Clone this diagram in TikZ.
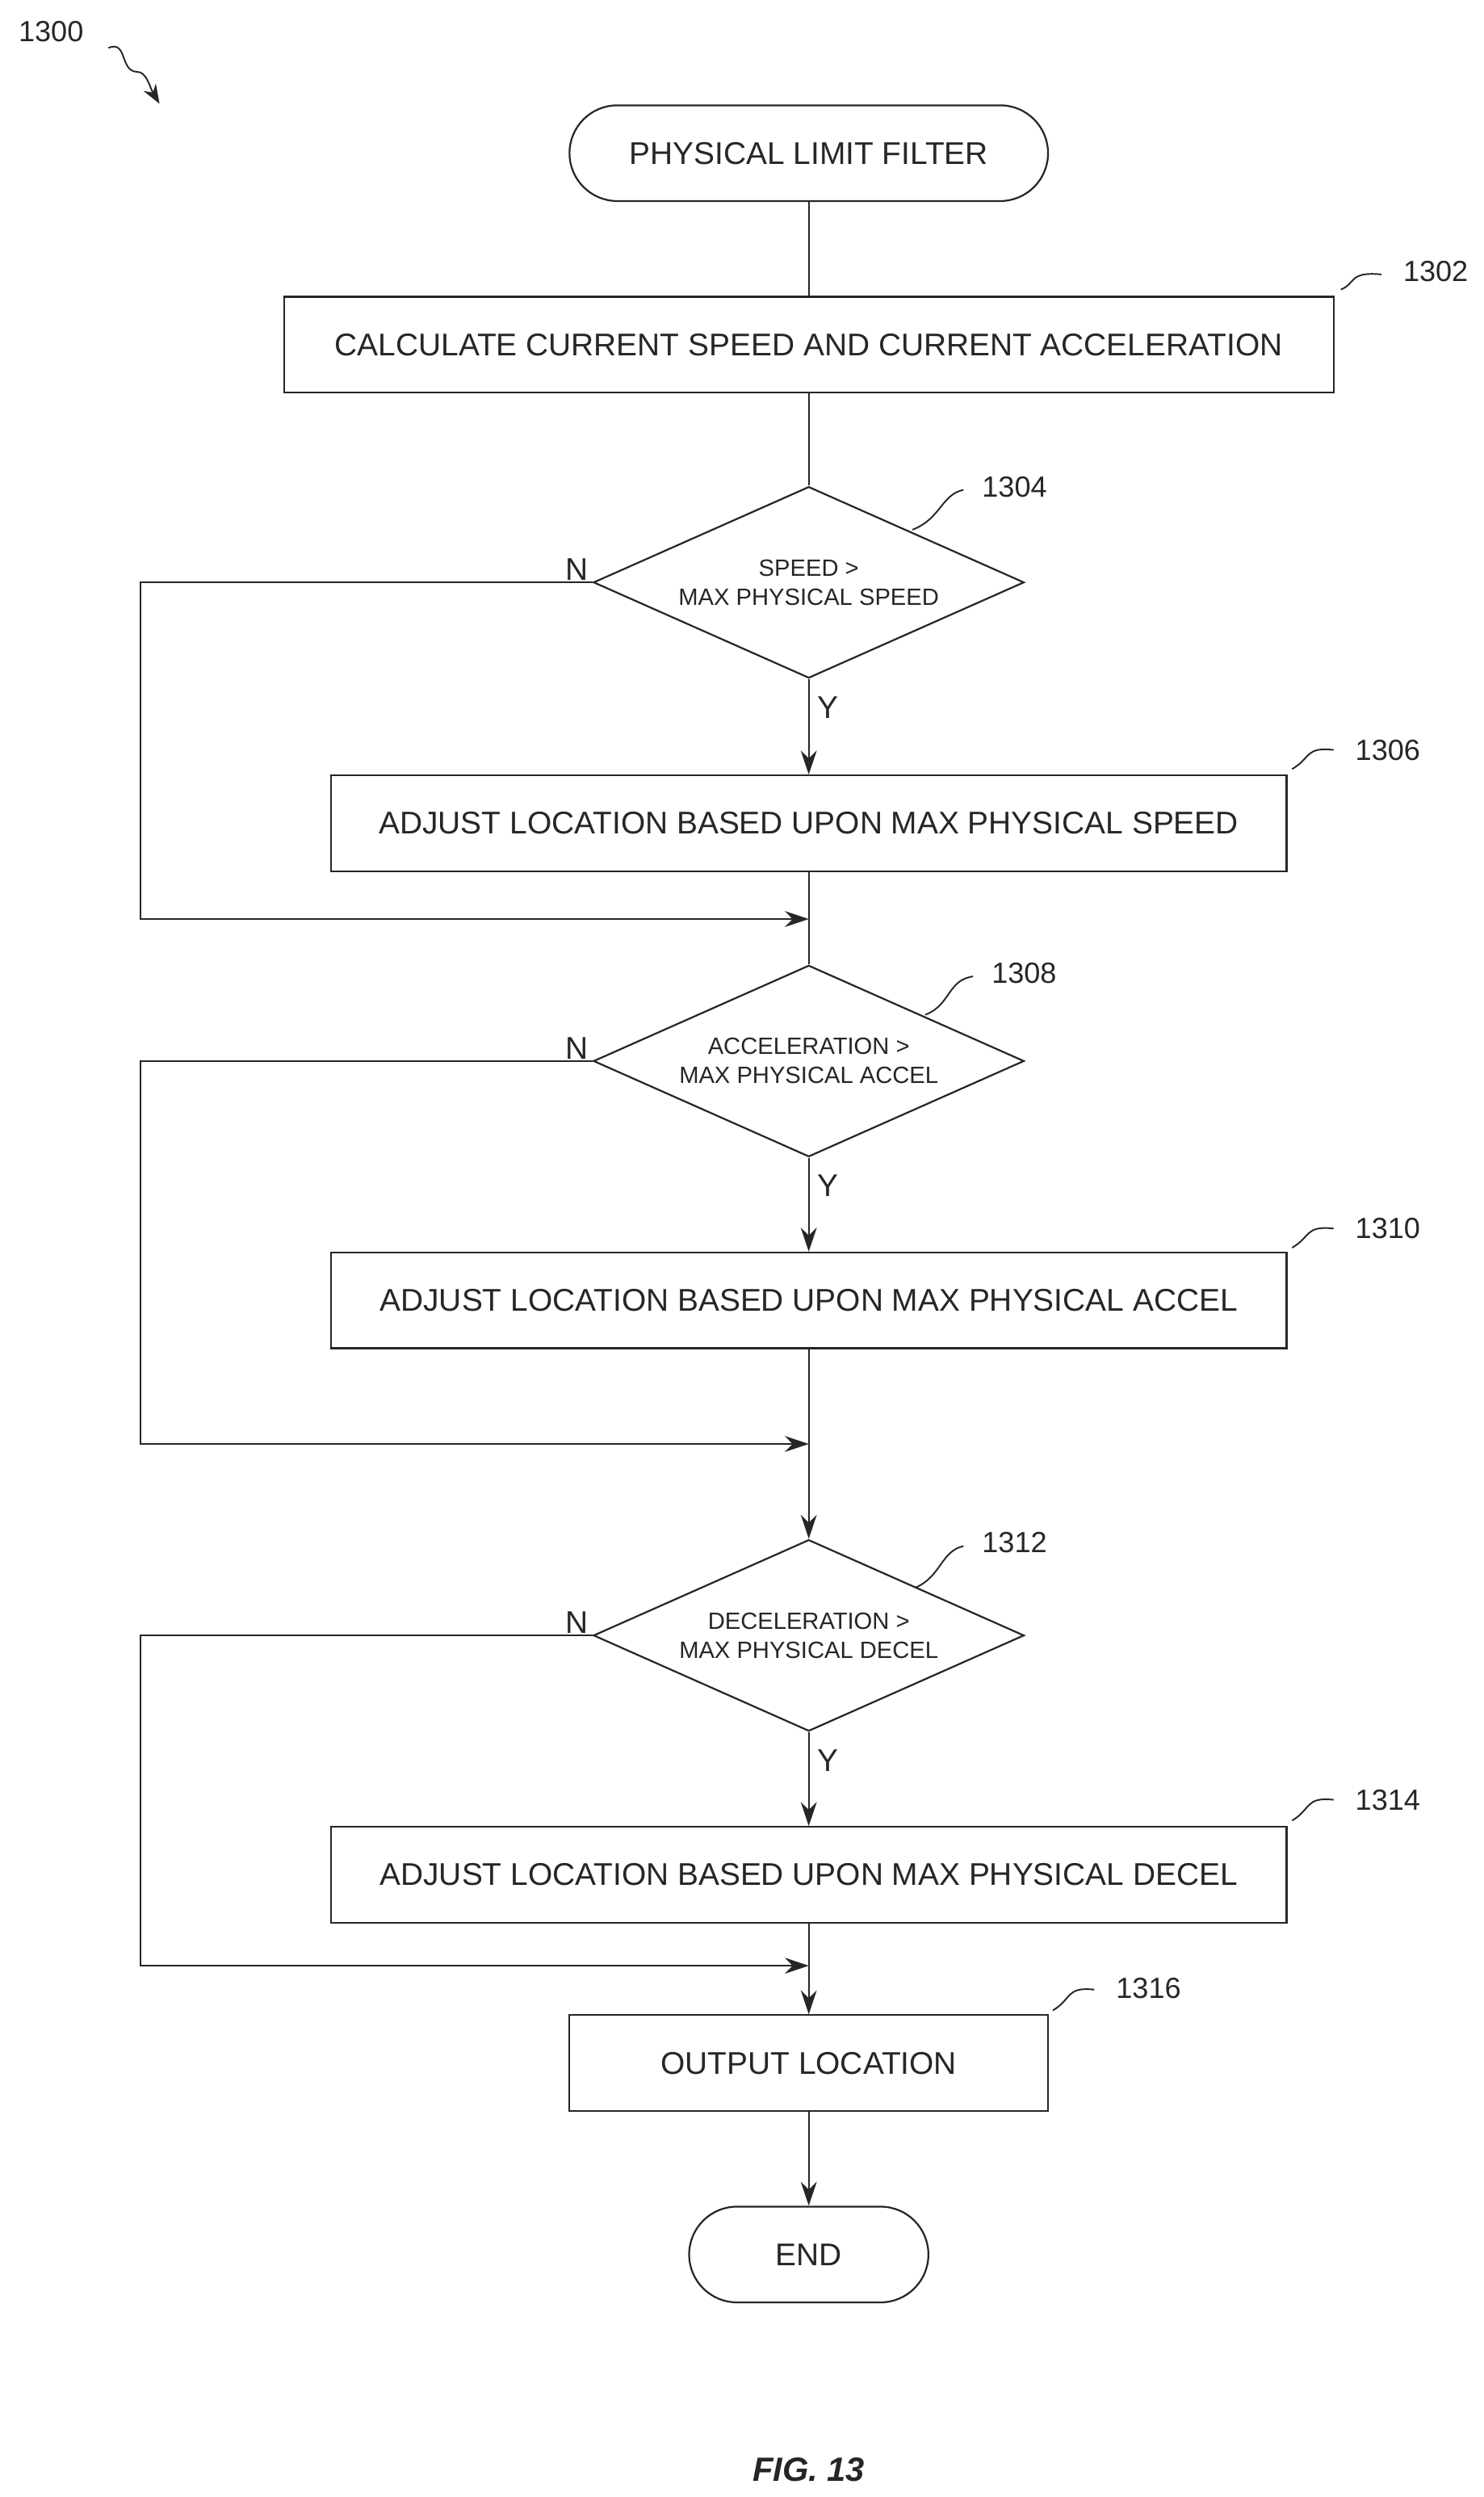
\documentclass[tikz,border=0pt]{standalone}
\usepackage{fontspec}
\setmainfont{Liberation Sans}
\usetikzlibrary{shapes.geometric,arrows.meta,positioning}
\tikzset{
  box/.style={draw, line width=1.6pt, minimum width=#1, minimum height=3cm, inner sep=0pt},
  term/.style={draw, line width=1.6pt, rounded corners=1.5cm, minimum width=#1, minimum height=3cm},
  dec/.style={draw, diamond, aspect=2.25, line width=1.6pt, minimum width=13.5cm, minimum height=6cm, inner sep=0pt, align=center, font=\fontsize{21}{26}\selectfont},
  flow/.style={line width=1.4pt, -{Stealth[length=0.75cm,width=0.5cm]}},
  lead/.style={line width=1.4pt},
  tag/.style={font=\fontsize{26}{30}\selectfont}
}
\begin{document}
\begin{tikzpicture}[x=0.05cm, y=-0.05cm, color=black!85, font=\fontsize{28}{33}\selectfont]
  \useasboundingbox (0,0) rectangle (930,1565);
  % 1300
  \node[tag] (t1300) at (32,20) {1300};
  \draw[lead, -{Stealth[length=0.6cm,width=0.45cm]}] (68,30) .. controls (80,25) and (75,45) .. (86,45) .. controls (92,45) and (94,55) .. (100,65);
  % blocks
  \node[term=15cm] (start) at (507,96) {PHYSICAL LIMIT FILTER};
  \node[box=32.9cm] (calc) at (507,216) {CALCULATE CURRENT SPEED AND CURRENT ACCELERATION};
  \node[dec] (speed) at (507,365) {SPEED >\\MAX PHYSICAL SPEED};
  \node[box=29.95cm] (adjs) at (507,516) {ADJUST LOCATION BASED UPON MAX PHYSICAL SPEED};
  \node[dec] (accel) at (507,665) {ACCELERATION >\\MAX PHYSICAL ACCEL};
  \node[box=29.95cm] (adja) at (507,815) {ADJUST LOCATION BASED UPON MAX PHYSICAL ACCEL};
  \node[dec] (decel) at (507,1025) {DECELERATION >\\MAX PHYSICAL DECEL};
  \node[box=29.95cm] (adjd) at (507,1175) {ADJUST LOCATION BASED UPON MAX PHYSICAL DECEL};
  \node[box=15cm] (out) at (507,1293) {OUTPUT LOCATION};
  \node[term=7.5cm] (end) at (507,1413) {END};
  % merge points
  \coordinate (m1) at (507,576);
  \coordinate (m2) at (507,905);
  \coordinate (m3) at (507,1232);
  % connectors
  \draw[lead] (start) -- (calc);
  \draw[lead] (calc) -- (speed);
  \draw[flow] (speed) -- node[right=4pt, pos=0.3] {Y} (adjs);
  \draw[lead] (adjs) -- (accel);
  \draw[flow] (speed.west) node[above left=-2pt and 0pt] {N} -- (88,365) -- (88,576) -- (m1);
  \draw[flow] (accel) -- node[right=4pt, pos=0.3] {Y} (adja);
  \draw[lead] (adja) -- (m2);
  \draw[flow] (m2) -- (decel);
  \draw[flow] (accel.west) node[above left=-2pt and 0pt] {N} -- (88,665) -- (88,905) -- (m2);
  \draw[flow] (decel) -- node[right=4pt, pos=0.3] {Y} (adjd);
  \draw[lead] (adjd) -- (m3);
  \draw[flow] (decel.west) node[above left=-2pt and 0pt] {N} -- (88,1025) -- (88,1232) -- (m3);
  \draw[flow] (m3) -- (out);
  \draw[flow] (out) -- (end);
  % reference numerals
  \node[tag] (n1302) at (900,170) {1302};
  \draw[lead] (calc.north east) ++(4,-4) .. controls (850,178) and (845,170) .. (866,172);
  \node[tag] (n1304) at (636,305) {1304};
  \draw[lead] (572,332) .. controls (590,325) and (590,310) .. (604,307);
  \node[tag] (n1306) at (870,470) {1306};
  \draw[lead] (810,482) .. controls (822,475) and (818,468) .. (836,470);
  \node[tag] (n1308) at (642,610) {1308};
  \draw[lead] (580,636) .. controls (596,630) and (594,614) .. (610,612);
  \node[tag] (n1310) at (870,770) {1310};
  \draw[lead] (810,782) .. controls (822,775) and (818,768) .. (836,770);
  \node[tag] (n1312) at (636,967) {1312};
  \draw[lead] (574,995) .. controls (590,988) and (590,972) .. (604,969);
  \node[tag] (n1314) at (870,1128) {1314};
  \draw[lead] (810,1141) .. controls (822,1134) and (818,1126) .. (836,1128);
  \node[tag] (n1316) at (720,1246) {1316};
  \draw[lead] (660,1260) .. controls (672,1253) and (668,1245) .. (686,1247);
  % caption
  \node[font=\fontsize{30}{36}\selectfont\bfseries\itshape] (fig) at (507,1548) {FIG. 13};
\end{tikzpicture}
\end{document}
